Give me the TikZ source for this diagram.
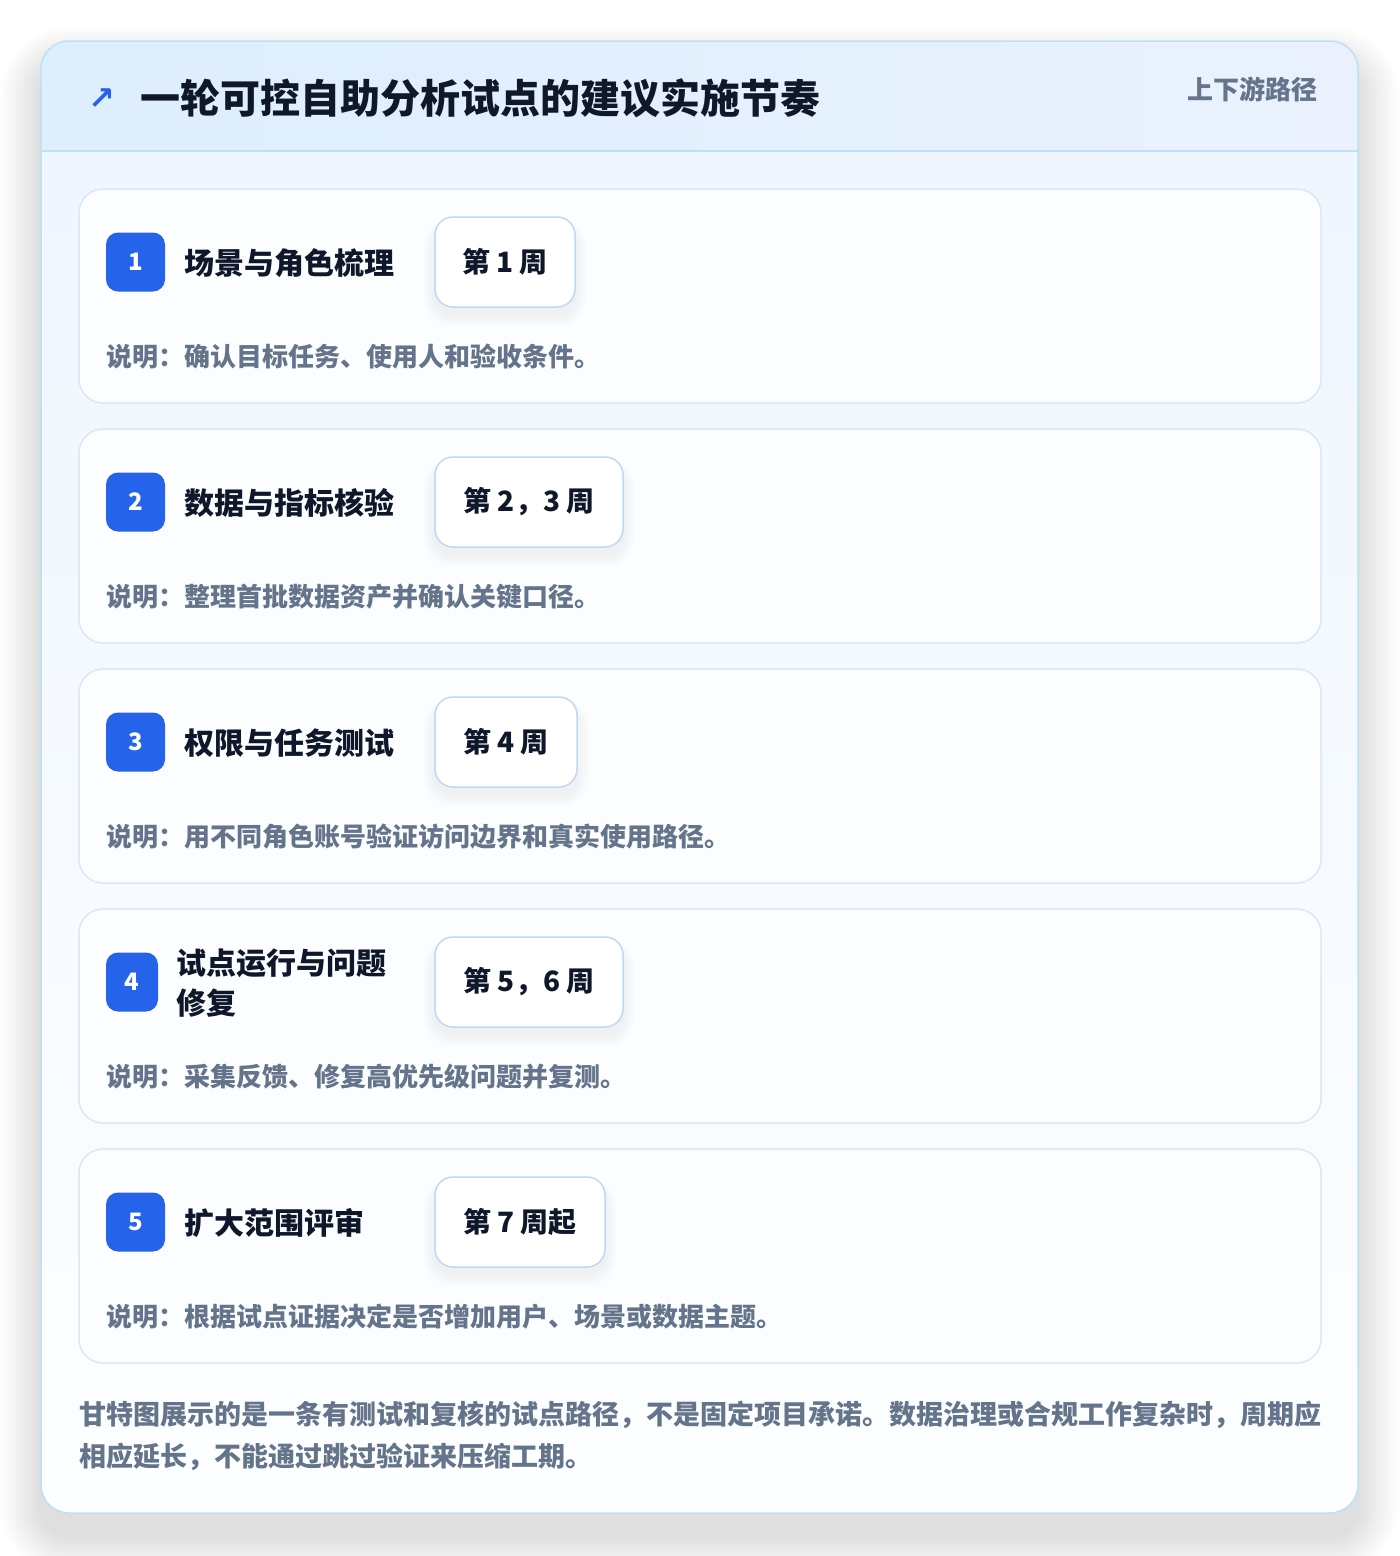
\documentclass[tikz,border=0pt]{standalone}
\usepackage{fontspec}
\setmainfont{Noto Sans CJK SC}
\newfontfamily\symfont{DejaVu Sans}
\definecolor{ink}{HTML}{0F172A}
\definecolor{muted}{HTML}{64748B}
\definecolor{brand}{HTML}{2563EB}
\definecolor{cardline}{HTML}{D8E8F8}
\definecolor{outline}{HTML}{BCE0F7}
\definecolor{pillline}{HTML}{BFD8F5}
\definecolor{headL}{HTML}{DDEEFC}
\definecolor{headR}{HTML}{EAF1FD}
\definecolor{bodyT}{HTML}{EFF6FE}
\definecolor{bodyB}{HTML}{FDFEFF}
\definecolor{cardfill}{HTML}{FCFDFF}
\definecolor{shade}{HTML}{1E293B}
\tikzset{
  cardbox/.style={draw=cardline, line width=1.5pt, fill=cardfill, rounded corners=24pt},
  badge/.style={fill=brand, rounded corners=12pt, inner sep=0pt, text=white,
    font=\bfseries\fontsize{24}{26}\selectfont},
  steptitle/.style={anchor=west, inner sep=0pt, text=ink, font=\bfseries\fontsize{30}{40}\selectfont, align=left},
  pill/.style={draw=pillline, line width=1.5pt, fill=white, rounded corners=18pt, minimum height=90pt,
    inner sep=0pt, text=ink, font=\bfseries\fontsize{28}{32}\selectfont},
  desc/.style={anchor=west, inner sep=0pt, text=muted, font=\bfseries\fontsize{26}{30}\selectfont},
  note/.style={anchor=west, inner sep=0pt, text=muted, font=\bfseries\fontsize{27}{32}\selectfont},
  softshade/.style={fill=shade, opacity=#1},
}
% soft shadow behind a pill: #1 left x, #2 top y, #3 width
\newcommand{\PillShadow}[3]{%
  \foreach \k in {1,...,6}{%
    \pgfmathsetmacro\rr{18+2*\k}%
    \fill[softshade=0.008, rounded corners=\rr pt] (#1-2*\k,#2+8-\k) rectangle (#1+#3+2*\k,#2+90+8+2*\k);
  }%
}
\newcommand{\StepCard}[6]{%
  % #1 top y, #2 number, #3 title, #4 week text, #5 pill width, #6 description
  \draw[cardbox] (79,#1) rectangle (1321,#1+214);
  \node[badge, minimum width=59pt, minimum height=59pt] (b#2) at (135.5,#1+73) {#2};
  \node[steptitle] (t#2) at (184,#1+74) {#3};
  \PillShadow{435}{#1+28}{#5}
  \node[pill, minimum width=#5pt] (w#2) at (435+#5/2,#1+73) {#4};
  \node[desc] (d#2) at (106,#1+168) {#6};
}
\begin{document}
\begin{tikzpicture}[x=1pt,y=-1pt]
\useasboundingbox (0,0) rectangle (1400,1556);
\fill[white] (0,0) rectangle (1400,1556);
% soft shadow of the main card
\foreach \k in {1,...,16}{
  \pgfmathsetmacro\rr{28+2.5*\k}
  \fill[softshade=0.007, rounded corners=\rr pt] (41-2.5*\k,41-2.5*\k+26) rectangle (1358+2.5*\k,1513+2.5*\k+22);
}
\fill[white, rounded corners=28pt] (41,41) rectangle (1358,1513);
\begin{scope}
  \clip[rounded corners=28pt] (41,41) rectangle (1358,1513);
  \shade[left color=headL, right color=headR] (41,41) rectangle (1358,151);
  \shade[top color=bodyT, bottom color=bodyB] (41,151) rectangle (1358,1513);
\end{scope}
\draw[outline, line width=1.5pt] (41,151) -- (1358,151);
\draw[outline, line width=1.5pt, rounded corners=28pt] (41,41) rectangle (1358,1513);
% header
\node[inner sep=0pt, text=brand, font=\symfont\bfseries\fontsize{32}{34}\selectfont] (icon) at (102,99) {↗};
\node[anchor=west, inner sep=0pt, text=ink, font=\bfseries\fontsize{40}{46}\selectfont] (title) at (140,98) {一轮可控自助分析试点的建议实施节奏};
\node[anchor=east, inner sep=0pt, text=muted, font=\bfseries\fontsize{26}{30}\selectfont] (tag) at (1318,89) {上下游路径};
% cards
\StepCard{189}{1}{场景与角色梳理}{第 1 周}{140}{说明：确认目标任务、使用人和验收条件。}
\StepCard{429}{2}{数据与指标核验}{第 2，3 周}{188}{说明：整理首批数据资产并确认关键口径。}
\StepCard{669}{3}{权限与任务测试}{第 4 周}{142}{说明：用不同角色账号验证访问边界和真实使用路径。}
% card 4 (two-line title)
\draw[cardbox] (79,909) rectangle (1321,1123);
\node[badge, minimum width=52pt, minimum height=59pt] (b4) at (132,982) {4};
\node[steptitle] (t4) at (176,983) {试点运行与问题\\修复};
\PillShadow{435}{937}{188}
\node[pill, minimum width=188pt] (w4) at (529,982) {第 5，6 周};
\node[desc] (d4) at (106,1077) {说明：采集反馈、修复高优先级问题并复测。};
\StepCard{1149}{5}{扩大范围评审}{第 7 周起}{170}{说明：根据试点证据决定是否增加用户、场景或数据主题。}
% footnote
\node[note] (n1) at (79,1415) {甘特图展示的是一条有测试和复核的试点路径，不是固定项目承诺。数据治理或合规工作复杂时，周期应};
\node[note] (n2) at (79,1457) {相应延长，不能通过跳过验证来压缩工期。};
\end{tikzpicture}
\end{document}
